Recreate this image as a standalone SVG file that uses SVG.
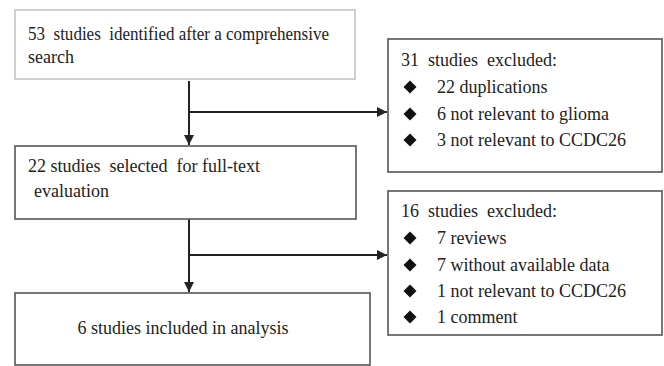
<svg xmlns="http://www.w3.org/2000/svg" width="664" height="366" viewBox="0 0 664 366">
<defs>
<style>
.box{fill:#fff;stroke:#555;stroke-width:1.6}
.box.light{stroke:#c4c4c4}
text{font-family:"Liberation Serif","Times New Roman",serif;font-size:18px;fill:#222}
.conn{stroke:#222;stroke-width:2;fill:none}
.dia{fill:#111}
</style>
<marker id="arr" viewBox="0 0 10 10" refX="10" refY="5" markerWidth="10" markerHeight="10" markerUnits="userSpaceOnUse" orient="auto">
<path d="M0,0 L10,5 L0,10 z" fill="#222"/>
</marker>
<path id="d" d="M0,-6.5 L6.5,0 L0,6.5 L-6.5,0 z"/>
</defs>
<rect width="664" height="366" fill="#fff"/>
<g id="connectors">
<line class="conn" x1="189" y1="81" x2="189" y2="145" marker-end="url(#arr)"/>
<line class="conn" x1="189" y1="112" x2="387" y2="112" marker-end="url(#arr)"/>
<line class="conn" x1="189" y1="219" x2="189" y2="292" marker-end="url(#arr)"/>
<line class="conn" x1="189" y1="255" x2="387" y2="255" marker-end="url(#arr)"/>
</g>
<g id="n1">
<rect class="box light" x="15" y="10" width="340" height="69"/>
<text x="28" y="40" xml:space="preserve" textLength="301" lengthAdjust="spacingAndGlyphs">53  studies  identified after a comprehensive</text>
<text x="28" y="63">search</text>
</g>
<g id="n2">
<rect class="box" x="15" y="146" width="341" height="73"/>
<text x="28" y="172" xml:space="preserve">22 studies  selected  for full-text</text>
<text x="34" y="197">evaluation</text>
</g>
<g id="n3">
<rect class="box" x="15" y="293" width="355" height="72"/>
<text x="183" y="334" text-anchor="middle">6 studies included in analysis</text>
</g>
<g id="n4">
<rect class="box" x="388" y="39" width="274" height="133"/>
<text x="401" y="66" xml:space="preserve">31  studies  excluded:</text>
<use href="#d" class="dia" x="410" y="87"/>
<text x="437" y="93">22 duplications</text>
<use href="#d" class="dia" x="410" y="114"/>
<text x="437" y="120">6 not relevant to glioma</text>
<use href="#d" class="dia" x="410" y="140"/>
<text x="437" y="146">3 not relevant to CCDC26</text>
</g>
<g id="n5">
<rect class="box" x="388" y="191" width="274" height="144"/>
<text x="401" y="217" xml:space="preserve">16  studies  excluded:</text>
<use href="#d" class="dia" x="410" y="238"/>
<text x="437" y="244">7 reviews</text>
<use href="#d" class="dia" x="410" y="265"/>
<text x="437" y="271">7 without available data</text>
<use href="#d" class="dia" x="410" y="291"/>
<text x="437" y="297">1 not relevant to CCDC26</text>
<use href="#d" class="dia" x="410" y="317"/>
<text x="437" y="323">1 comment</text>
</g>
</svg>
